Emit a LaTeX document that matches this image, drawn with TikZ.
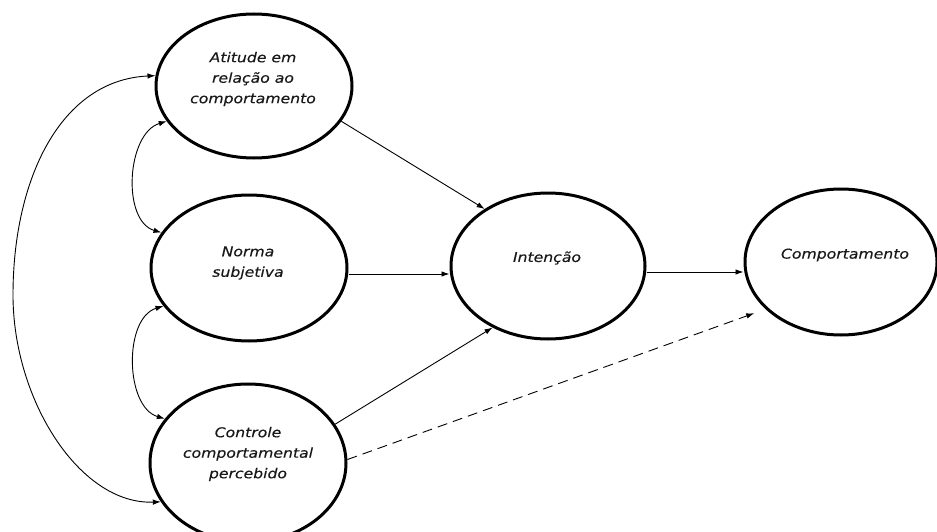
\documentclass[tikz,border=0pt]{standalone}
\usepackage{fontspec}
\newfontfamily\lblfont[ItalicFeatures={FakeStretch=1.16, FakeBold=0.3}]{DejaVu Sans}
\usetikzlibrary{shapes.geometric,arrows.meta}
\begin{document}
\begin{tikzpicture}[x=1pt,y=-1pt,
  construct/.style={ellipse, draw, line width=3pt, inner sep=0pt},
  lbl/.style={font={\lblfont\itshape\fontsize{13.5}{20.5}\selectfont}, align=center, text=black!90, inner sep=0pt},
  link/.style={line width=0.9pt, -{Latex[length=8pt,width=5.5pt]}},
  twoway/.style={line width=0.9pt, {Latex[length=8pt,width=5.5pt]}-{Latex[length=8pt,width=5.5pt]}},
]
\useasboundingbox (0,0) rectangle (937,532);

% constructs
\node[construct, minimum width=196pt, minimum height=144pt] (att)  at (254,86)  {};
\node[construct, minimum width=196pt, minimum height=146pt] (nrm)  at (249,268) {};
\node[construct, minimum width=196pt, minimum height=158pt] (ctl)  at (248,463) {};
\node[construct, minimum width=194pt, minimum height=146pt] (int)  at (548,266) {};
\node[construct, minimum width=192pt, minimum height=146pt] (comp) at (841,262) {};

% labels
\node[lbl] (att-t)  at (253,79)  {Atitude em\\relação ao\\comportamento};
\node[lbl] (nrm-t)  at (248,263) {Norma\\subjetiva};
\node[lbl] (ctl-t)  at (248,454) {Controle\\comportamental\\percebido};
\node[lbl] (int-t)  at (547,258) {Intenção};
\node[lbl] (comp-t) at (845,255) {Comportamento};

% correlations between the antecedents
\coordinate (loopL) at (13,295);
\draw[twoway] (att.-158) .. controls +(-40,12) and +(-40,-12) .. (nrm.158);
\draw[twoway] (nrm.-156) .. controls +(-40,12) and +(-40,-12) .. (ctl.152);
\draw[twoway] (att.174) .. controls (60,80) and (13,180) .. (loopL)
              .. controls (13,400) and (80,505) .. (ctl.-156);

% causal paths
\draw[link] (att.-22) -- (int.138);
\draw[link] ([yshift=-6pt]nrm.east) -- ([yshift=-6pt]nrm.east -| int.west);
\draw[link] (ctl.24) -- (int.-132);
\draw[link] ([yshift=-6pt]int.east) -- ([yshift=-6pt]int.east -| comp.west);
\draw[link, dash pattern=on 10pt off 6pt, shorten >=12pt] (ctl.2) -- (comp.-148);
\end{tikzpicture}
\end{document}
